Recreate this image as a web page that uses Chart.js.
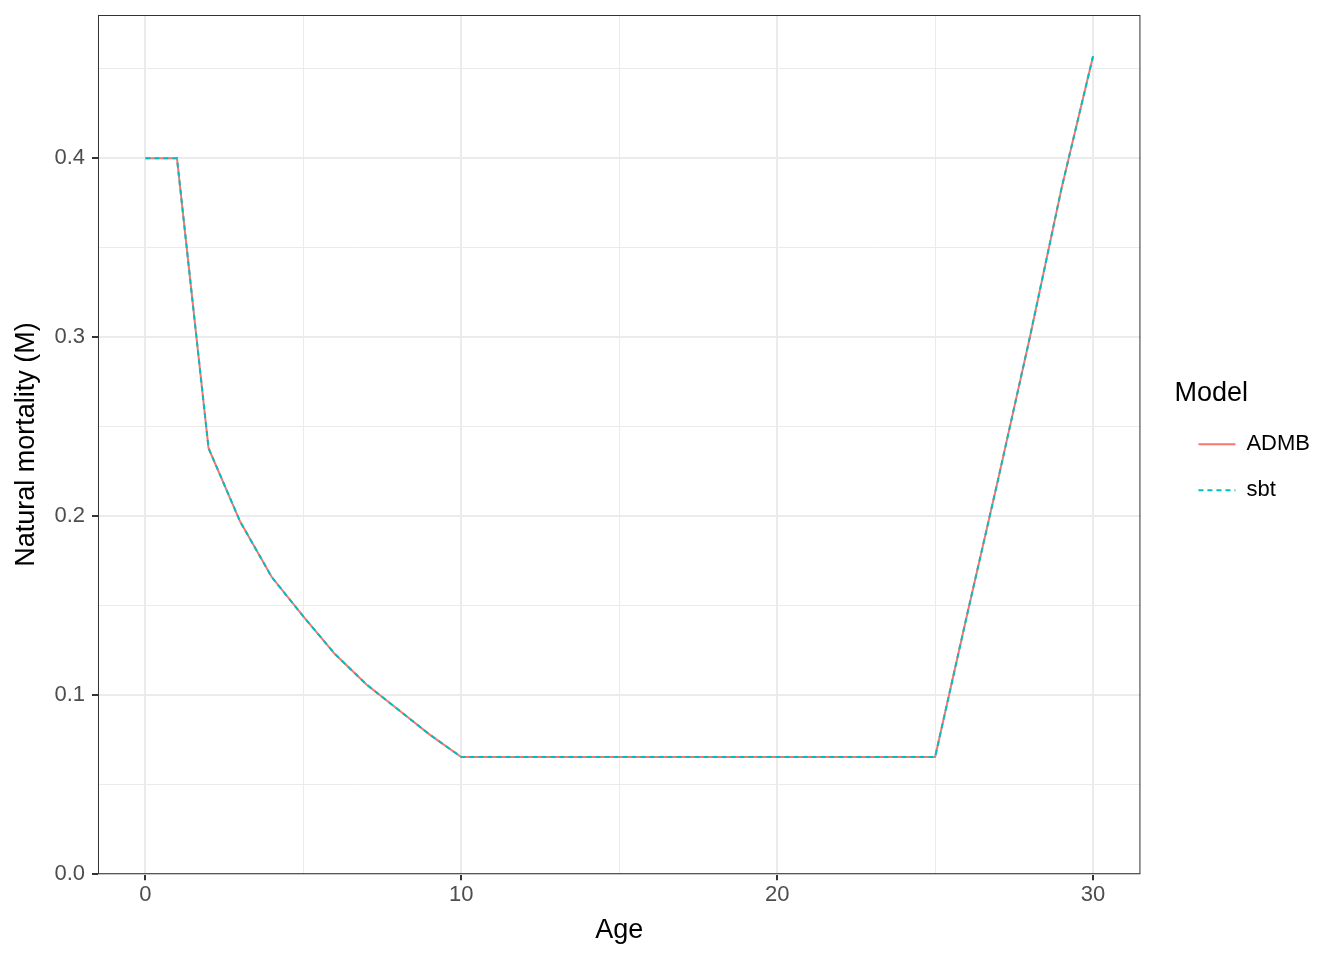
<!DOCTYPE html>
<html>
<head>
<meta charset="utf-8">
<script src="https://cdn.jsdelivr.net/npm/chart.js@4.4.1/dist/chart.umd.min.js"></script>
<style>
  html, body { margin: 0; padding: 0; background: #fff; }
  #wrap { width: 1344px; height: 960px; }
</style>
</head>
<body>
<div id="wrap"><canvas id="mChart" width="1344" height="960"></canvas></div>
<script>
// ages and natural mortality
const ages = [0, 1, 2, 3, 4, 5, 6, 7, 8, 9, 10, 11, 12, 13, 14, 15, 16, 17, 18, 19, 20, 21, 22, 23, 24, 25, 26, 27, 28, 29, 30];
const admbM = [0.400, 0.400, 0.238, 0.197, 0.166, 0.144, 0.123, 0.106, 0.092, 0.078, 0.0655,
    0.0655, 0.0655, 0.0655, 0.0655, 0.0655, 0.0655, 0.0655, 0.0655, 0.0655, 0.0655,
    0.0655, 0.0655, 0.0655, 0.0655, 0.0655, 0.144, 0.221, 0.300, 0.383, 0.457];
const sbtM = [0.400, 0.400, 0.238, 0.197, 0.166, 0.144, 0.123, 0.106, 0.092, 0.078, 0.0655,
    0.0655, 0.0655, 0.0655, 0.0655, 0.0655, 0.0655, 0.0655, 0.0655, 0.0655, 0.0655,
    0.0655, 0.0655, 0.0655, 0.0655, 0.0655, 0.144, 0.221, 0.300, 0.383, 0.457];
const xTicks = [0, 5, 10, 15, 20, 25, 30];
const xLabels = [0, 10, 20, 30];
const yTicks = [0, 0.05, 0.1, 0.15, 0.2, 0.25, 0.3, 0.35, 0.4, 0.45];
const yLabels = [0, 0.1, 0.2, 0.3, 0.4];

const FONT = "'Liberation Sans', Arial, sans-serif";
const isMajor = (v, list) => list.some(l => Math.abs(l - v) < 1e-9);

const panelBorder = {
    id: 'panelBorder',
    afterDraw(chart) {
        const a = chart.chartArea;
        const c = chart.ctx;
        c.save();
        c.strokeStyle = '#333333';
        c.lineWidth = 1;
        c.strokeRect(a.left + 0.5, a.top + 0.5, a.right - a.left - 1, a.bottom - a.top - 1);
        c.restore();
    }
};

const ctx = document.getElementById('mChart').getContext('2d');
const mChart = new Chart(ctx, {
    type: 'line',
    data: {
        datasets: [{
            label: 'sbt',
            data: ages.map((a, i) => ({x: a, y: sbtM[i]})),
            borderColor: '#00BFC4',
            backgroundColor: '#00BFC4',
            borderWidth: 2,
            borderDash: [5, 4],
            pointRadius: 0,
            tension: 0
        },
        {
            label: 'ADMB',
            data: ages.map((a, i) => ({x: a, y: admbM[i]})),
            borderColor: '#F8766D',
            backgroundColor: '#F8766D',
            borderWidth: 2,
            pointRadius: 0,
            tension: 0
        }]
    },
    options: {
        responsive: false,
        animation: false,
        layout: {
            padding: {top: 15, right: 24, bottom: 13, left: 10}
        },
        plugins: {
            tooltip: {enabled: false},
            legend: {
                position: 'right',
                align: 'center',
                fullSize: false,
                title: {
                    display: true,
                    text: 'Model',
                    position: 'start',
                    color: '#000',
                    font: {family: FONT, size: 27},
                    padding: {top: 16, bottom: -3}
                },
                labels: {
                    usePointStyle: true,
                    pointStyle: 'line',
                    pointStyleWidth: 37,
                    boxWidth: 37,
                    color: '#000',
                    font: {family: FONT, size: 22},
                    padding: 24,
                    sort: (a, b) => b.datasetIndex - a.datasetIndex,
                    generateLabels: chart => {
                        const items = Chart.defaults.plugins.legend.labels.generateLabels(chart);
                        items.forEach(it => {
                            const ds = chart.data.datasets[it.datasetIndex];
                            it.lineDash = ds.borderDash || [];
                            it.lineWidth = 2;
                            it.strokeStyle = ds.borderColor;
                        });
                        return items;
                    }
                }
            }
        },
        scales: {
            x: {
                type: 'linear',
                min: -1.5,
                max: 31.5,
                afterBuildTicks: s => { s.ticks = xTicks.map(v => ({value: v})); },
                ticks: {
                    autoSkip: false,
                    maxRotation: 0,
                    color: '#4D4D4D',
                    font: {family: FONT, size: 22},
                    padding: 2,
                    callback: v => isMajor(v, xLabels) ? String(v) : ''
                },
                grid: {
                    color: '#EBEBEB',
                    lineWidth: c => isMajor(c.tick.value, xLabels) ? 2 : 1,
                    tickColor: c => isMajor(c.tick.value, xLabels) ? '#333333' : 'rgba(0,0,0,0)',
                    tickLength: 6,
                    tickWidth: 2
                },
                border: {display: false},
                title: {
                    display: true,
                    text: 'Age',
                    color: '#000',
                    font: {family: FONT, size: 27},
                    padding: {top: 4, bottom: 0}
                }
            },
            y: {
                type: 'linear',
                min: 0,
                max: 0.48,
                afterBuildTicks: s => { s.ticks = yTicks.map(v => ({value: v})); },
                afterFit: s => { s.paddingTop = 0; },
                ticks: {
                    autoSkip: false,
                    color: '#4D4D4D',
                    font: {family: FONT, size: 22},
                    padding: 7,
                    callback: v => isMajor(v, yLabels) ? v.toFixed(1) : ''
                },
                grid: {
                    color: '#EBEBEB',
                    lineWidth: c => isMajor(c.tick.value, yLabels) ? 2 : 1,
                    tickColor: c => isMajor(c.tick.value, yLabels) ? '#333333' : 'rgba(0,0,0,0)',
                    tickLength: 6,
                    tickWidth: 2
                },
                border: {display: false},
                title: {
                    display: true,
                    text: 'Natural mortality (M)',
                    color: '#000',
                    font: {family: FONT, size: 27},
                    padding: {top: 0, bottom: 5}
                }
            },
            // empty spacer between the panel and the legend
            gap: {
                type: 'linear',
                position: 'right',
                display: true,
                ticks: {display: false},
                grid: {display: false, drawTicks: false},
                border: {display: false},
                afterFit: s => { s.width = 34; s.paddingTop = 0; }
            }
        }
    },
    plugins: [panelBorder]
});
</script>
</body>
</html>
